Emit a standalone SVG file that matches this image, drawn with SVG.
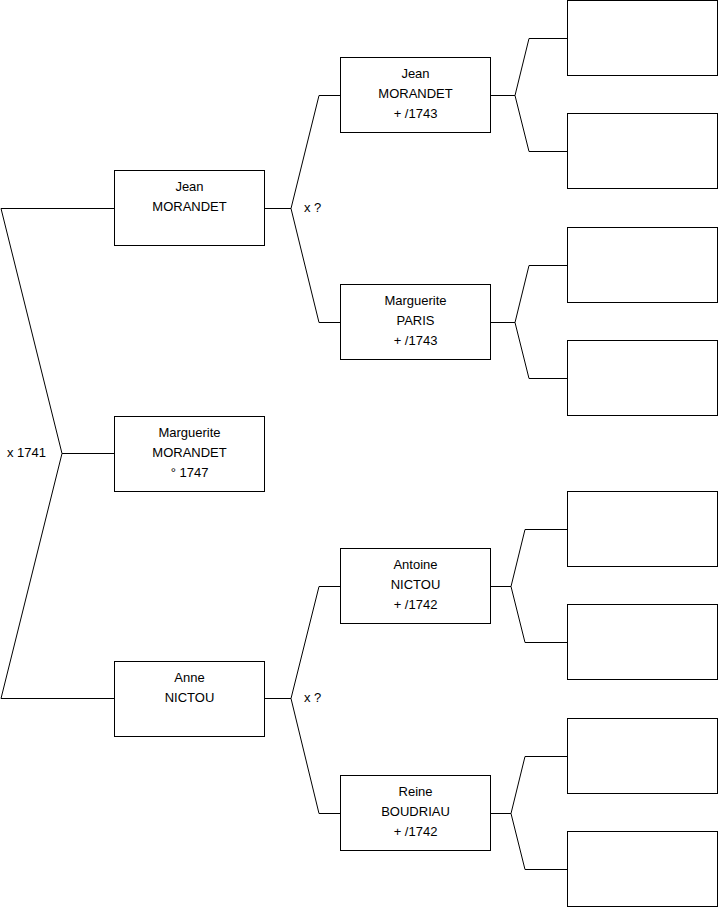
<svg xmlns="http://www.w3.org/2000/svg" width="719" height="908" viewBox="0 0 719 908">
<style>
.b{fill:#fff;stroke:#000;stroke-width:1}
.c{fill:none;stroke:#000;stroke-width:1}
text{font-family:"Liberation Sans",Arial,sans-serif;font-size:13px;fill:#000;text-anchor:middle}
.l{text-anchor:start}
</style>
<rect width="719" height="908" fill="#fff"/>
<g id="connectors">
<polyline class="c" points="114,208.5 1,208.5 62,453.5 1,698.5 114,698.5"/>
<line class="c" x1="62" y1="453.5" x2="114" y2="453.5"/>
<polyline class="c" points="340,95.5 319,95.5 291,208.5 319,322.5 340,322.5"/>
<line class="c" x1="265" y1="208.5" x2="291" y2="208.5"/>
<polyline class="c" points="340,586.5 319,586.5 291,698.5 319,813.5 340,813.5"/>
<line class="c" x1="265" y1="698.5" x2="291" y2="698.5"/>
<polyline class="c" points="567,38.5 529,38.5 515,95.5 529,151.5 567,151.5"/>
<line class="c" x1="491" y1="95.5" x2="515" y2="95.5"/>
<polyline class="c" points="567,265.5 529,265.5 515,322.5 529,378.5 567,378.5"/>
<line class="c" x1="491" y1="322.5" x2="515" y2="322.5"/>
<polyline class="c" points="567,529.5 525,529.5 511,586.5 525,642.5 567,642.5"/>
<line class="c" x1="491" y1="586.5" x2="511" y2="586.5"/>
<polyline class="c" points="567,756.5 525,756.5 511,813.5 525,869.5 567,869.5"/>
<line class="c" x1="491" y1="813.5" x2="511" y2="813.5"/>
<text class="l" x="7" y="457">x 1741</text>
<text class="l" x="304" y="212">x ?</text>
<text class="l" x="304" y="702">x ?</text>
</g>
<g id="n1"><rect class="b" x="114.5" y="170.5" width="150" height="75"/><text x="189.5" y="191">Jean</text><text x="189.5" y="211">MORANDET</text></g>
<g id="n2"><rect class="b" x="114.5" y="416.5" width="150" height="75"/><text x="189.5" y="437">Marguerite</text><text x="189.5" y="457">MORANDET</text><text x="189.5" y="477">° 1747</text></g>
<g id="n3"><rect class="b" x="114.5" y="661.5" width="150" height="75"/><text x="189.5" y="682">Anne</text><text x="189.5" y="702">NICTOU</text></g>
<g id="n4"><rect class="b" x="340.5" y="57.5" width="150" height="75"/><text x="415.5" y="78">Jean</text><text x="415.5" y="98">MORANDET</text><text x="415.5" y="118">+ /1743</text></g>
<g id="n5"><rect class="b" x="340.5" y="284.5" width="150" height="75"/><text x="415.5" y="305">Marguerite</text><text x="415.5" y="325">PARIS</text><text x="415.5" y="345">+ /1743</text></g>
<g id="n6"><rect class="b" x="340.5" y="548.5" width="150" height="75"/><text x="415.5" y="569">Antoine</text><text x="415.5" y="589">NICTOU</text><text x="415.5" y="609">+ /1742</text></g>
<g id="n7"><rect class="b" x="340.5" y="775.5" width="150" height="75"/><text x="415.5" y="796">Reine</text><text x="415.5" y="816">BOUDRIAU</text><text x="415.5" y="836">+ /1742</text></g>
<g id="n8"><rect class="b" x="567.5" y="0.5" width="150" height="75"/></g>
<g id="n9"><rect class="b" x="567.5" y="113.5" width="150" height="75"/></g>
<g id="n10"><rect class="b" x="567.5" y="227.5" width="150" height="75"/></g>
<g id="n11"><rect class="b" x="567.5" y="340.5" width="150" height="75"/></g>
<g id="n12"><rect class="b" x="567.5" y="491.5" width="150" height="75"/></g>
<g id="n13"><rect class="b" x="567.5" y="604.5" width="150" height="75"/></g>
<g id="n14"><rect class="b" x="567.5" y="718.5" width="150" height="75"/></g>
<g id="n15"><rect class="b" x="567.5" y="831.5" width="150" height="75"/></g>
</svg>
